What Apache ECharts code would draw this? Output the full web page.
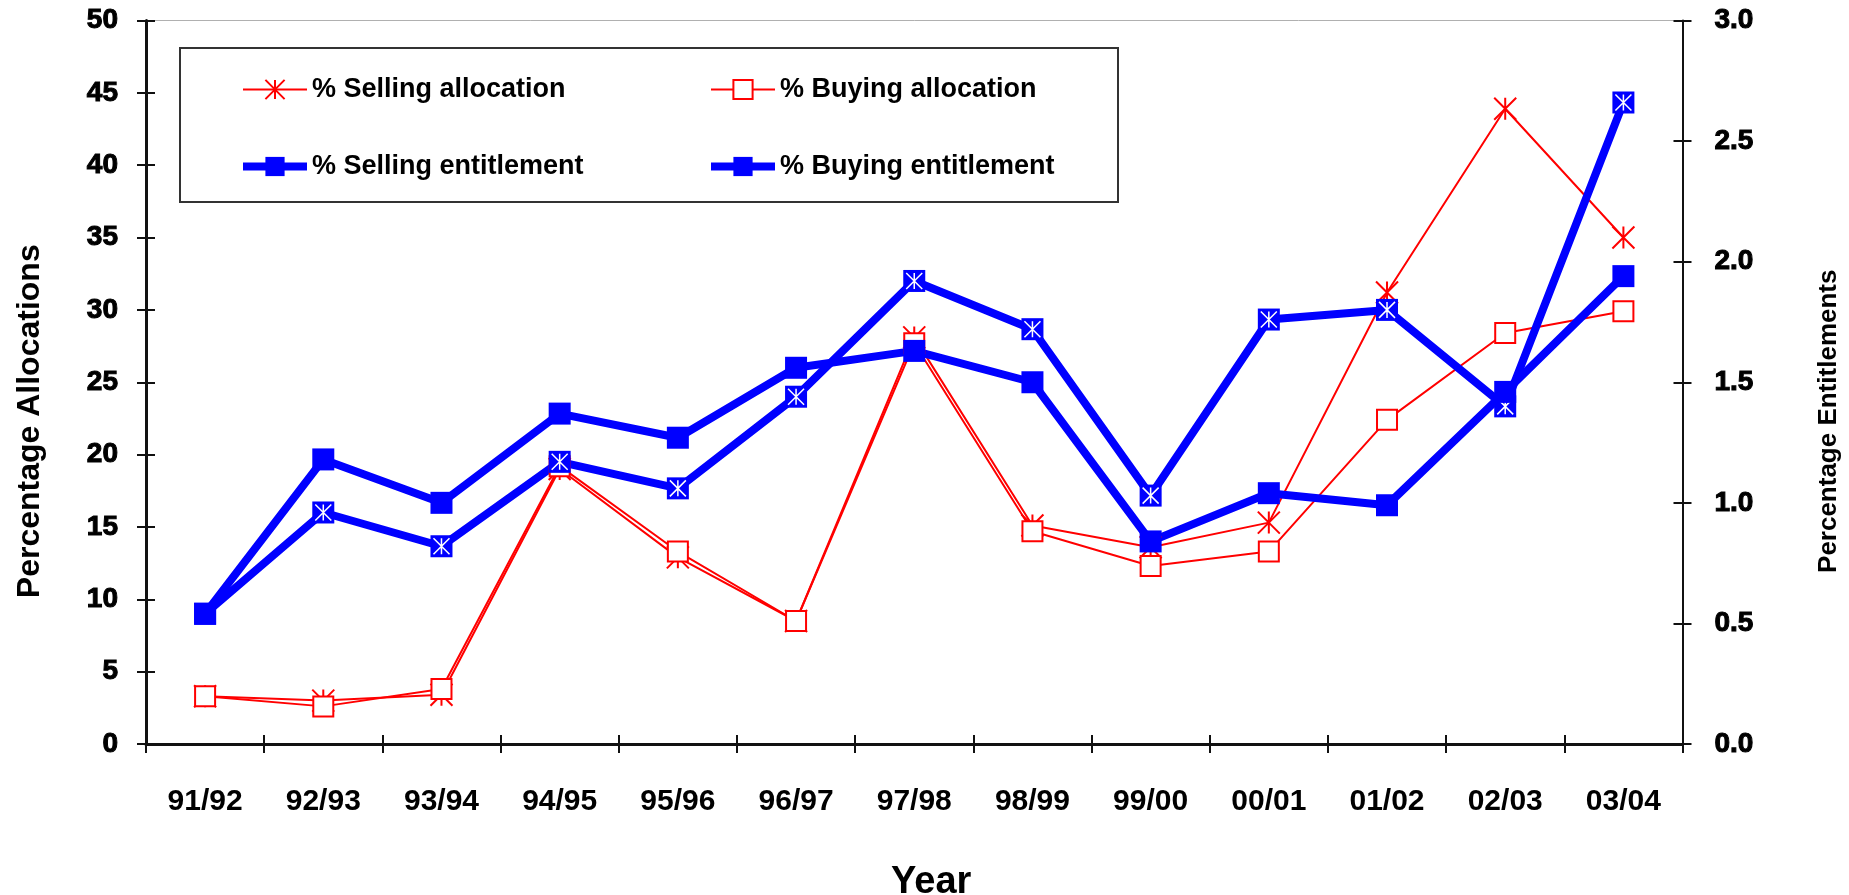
<!DOCTYPE html>
<html>
<head>
<meta charset="utf-8">
<script src="https://cdn.jsdelivr.net/npm/echarts@6/dist/echarts.min.js"></script>
<style>
  html, body { margin: 0; padding: 0; background: #fff; }
  #chart { width: 1849px; height: 895px; }
</style>
</head>
<body>
<div id="chart"></div>
<script>
// Financial years on the category axis
const years = ['91/92', '92/93', '93/94', '94/95', '95/96', '96/97', '97/98',
               '98/99', '99/00', '00/01', '01/02', '02/03', '03/04'];

// Percentage of allocations traded (left axis)
const sellingAllocation = [3.3, 3.0, 3.4, 19.0, 12.9, 8.5, 28.1, 15.1, 13.6, 15.3, 31.2, 43.9, 35.0];
const buyingAllocation  = [3.3, 2.6, 3.8, 19.2, 13.3, 8.5, 27.7, 14.7, 12.3, 13.3, 22.4, 28.4, 29.9];

// Percentage of entitlements traded (right axis)
const sellingEntitlement = [0.54, 0.96, 0.82, 1.17, 1.06, 1.44, 1.92, 1.72, 1.03, 1.76, 1.80, 1.40, 2.66];
const buyingEntitlement  = [0.54, 1.18, 1.00, 1.37, 1.27, 1.56, 1.63, 1.50, 0.84, 1.04, 0.99, 1.46, 1.94];

// Axis scales
const allocationAxis  = { min: 0, max: 50, interval: 5 };
const entitlementAxis = { min: 0, max: 3, interval: 0.5 };

const RED = '#ff0000';
const BLUE = '#0000ff';
const FONT = '"Liberation Sans", Arial, sans-serif';
// asterisk marker: an X crossed by a vertical stroke
const ASTERISK = 'path://M0,0L20,20M20,0L0,20M10,0L10,20';

const chart = echarts.init(document.getElementById('chart'), null, { renderer: 'canvas' });

const tickStyle = { color: '#111', width: 2 };
const heavyLabel = {
  fontSize: 28, fontWeight: 'bold', color: '#000', fontFamily: FONT,
  textBorderColor: '#000', textBorderWidth: 1
};

const legendCommon = {
  orient: 'vertical',
  top: 76,
  itemGap: 50,
  itemWidth: 64,
  itemHeight: 24,
  padding: 0,
  selectedMode: false,
  textStyle: { fontSize: 27, fontWeight: 'bold', color: '#000', fontFamily: FONT },
  lineStyle: { width: 'inherit' },
  itemStyle: { borderWidth: 'inherit' }
};

chart.setOption({
  animation: false,
  backgroundColor: '#fff',
  textStyle: { fontFamily: FONT },
  grid: {
    left: 146, right: 166.5, top: 20.5, bottom: 151,
    show: true, borderColor: '#b0b0b0', borderWidth: 1,
    containLabel: false, outerBoundsMode: 'none'
  },
  graphic: [{
    type: 'rect',
    z: 1,
    shape: { x: 180, y: 48, width: 938, height: 154 },
    style: { fill: 'none', stroke: '#333', lineWidth: 2 }
  }],
  legend: [
    Object.assign({}, legendCommon, { left: 239, data: ['% Selling allocation', '% Selling entitlement'] }),
    Object.assign({}, legendCommon, { left: 707, data: ['% Buying allocation', '% Buying entitlement'] })
  ],
  xAxis: [{
    type: 'category',
    data: years,
    position: 'bottom',
    boundaryGap: true,
    axisLine: { show: true, lineStyle: { color: '#111', width: 3 } },
    axisTick: { show: true, interval: 0, length: 9, lineStyle: tickStyle },
    axisLabel: { interval: 0, margin: 43, fontSize: 30, fontWeight: 'bold', color: '#000', fontFamily: FONT },
    splitLine: { show: false },
    name: 'Year',
    nameLocation: 'middle',
    nameGap: 120,
    nameTextStyle: { fontSize: 38, fontWeight: 'bold', color: '#000', fontFamily: FONT, padding: [0, 0, 0, 34] }
  }, {
    // inner half of the crossing ticks
    type: 'category',
    data: years,
    position: 'bottom',
    boundaryGap: true,
    axisLine: { show: false },
    axisTick: { show: true, inside: true, interval: 0, length: 9, lineStyle: tickStyle },
    axisLabel: { show: false },
    splitLine: { show: false }
  }],
  yAxis: [{
    type: 'value',
    position: 'left',
    min: allocationAxis.min, max: allocationAxis.max, interval: allocationAxis.interval,
    axisLine: { show: true, lineStyle: { color: '#111', width: 3 } },
    axisTick: { show: true, length: 9, lineStyle: tickStyle },
    axisLabel: Object.assign({ margin: 28 }, heavyLabel),
    splitLine: { show: false },
    name: 'Percentage Allocations',
    nameLocation: 'middle',
    nameRotate: 90,
    nameGap: 100,
    nameTextStyle: { fontSize: 32, fontWeight: 'bold', color: '#000', fontFamily: FONT, padding: [0, 78, 0, 0] }
  }, {
    type: 'value',
    position: 'right',
    min: entitlementAxis.min, max: entitlementAxis.max, interval: entitlementAxis.interval,
    axisLine: { show: true, lineStyle: { color: '#111', width: 2 } },
    axisTick: { show: true, length: 9, lineStyle: tickStyle },
    axisLabel: Object.assign({ margin: 32, formatter: v => v.toFixed(1) }, heavyLabel),
    splitLine: { show: false },
    name: 'Percentage Entitlements',
    nameLocation: 'middle',
    nameRotate: 90,
    nameGap: 133,
    nameTextStyle: { fontSize: 26, fontWeight: 'bold', color: '#000', fontFamily: FONT, padding: [0, 78, 0, 0] }
  }, {
    type: 'value',
    position: 'left',
    min: allocationAxis.min, max: allocationAxis.max, interval: allocationAxis.interval,
    axisLine: { show: false },
    axisTick: { show: true, inside: true, length: 9, lineStyle: tickStyle },
    axisLabel: { show: false },
    splitLine: { show: false }
  }, {
    type: 'value',
    position: 'right',
    min: entitlementAxis.min, max: entitlementAxis.max, interval: entitlementAxis.interval,
    axisLine: { show: false },
    axisTick: { show: true, inside: true, length: 9, lineStyle: tickStyle },
    axisLabel: { show: false },
    splitLine: { show: false }
  }],
  series: [{
    name: '% Selling allocation',
    type: 'line',
    xAxisIndex: 0, yAxisIndex: 0,
    data: sellingAllocation,
    symbol: ASTERISK,
    symbolSize: 22,
    lineStyle: { color: RED, width: 2 },
    itemStyle: { color: RED, borderColor: RED, borderWidth: 2 },
    emphasis: { disabled: true }
  }, {
    name: '% Buying allocation',
    type: 'line',
    xAxisIndex: 0, yAxisIndex: 0,
    data: buyingAllocation,
    symbol: 'rect',
    symbolSize: 20,
    lineStyle: { color: RED, width: 2 },
    itemStyle: { color: '#fff', borderColor: RED, borderWidth: 2 },
    emphasis: { disabled: true }
  }, {
    name: '% Selling entitlement',
    type: 'line',
    xAxisIndex: 0, yAxisIndex: 1,
    data: sellingEntitlement,
    symbol: 'rect',
    symbolSize: 22,
    lineStyle: { color: BLUE, width: 8 },
    itemStyle: { color: BLUE, borderColor: BLUE, borderWidth: 0 },
    emphasis: { disabled: true }
  }, {
    // white asterisk drawn inside the selling-entitlement squares
    name: '% Selling entitlement',
    type: 'line',
    xAxisIndex: 0, yAxisIndex: 1,
    data: sellingEntitlement,
    symbol: ASTERISK,
    symbolSize: 16,
    silent: true,
    lineStyle: { width: 0, opacity: 0 },
    itemStyle: { color: '#fff', borderColor: '#fff', borderWidth: 1.5 },
    emphasis: { disabled: true }
  }, {
    name: '% Buying entitlement',
    type: 'line',
    xAxisIndex: 0, yAxisIndex: 1,
    data: buyingEntitlement,
    symbol: 'rect',
    symbolSize: 22,
    lineStyle: { color: BLUE, width: 8 },
    itemStyle: { color: BLUE, borderColor: BLUE, borderWidth: 0 },
    emphasis: { disabled: true }
  }]
});
</script>
</body>
</html>
